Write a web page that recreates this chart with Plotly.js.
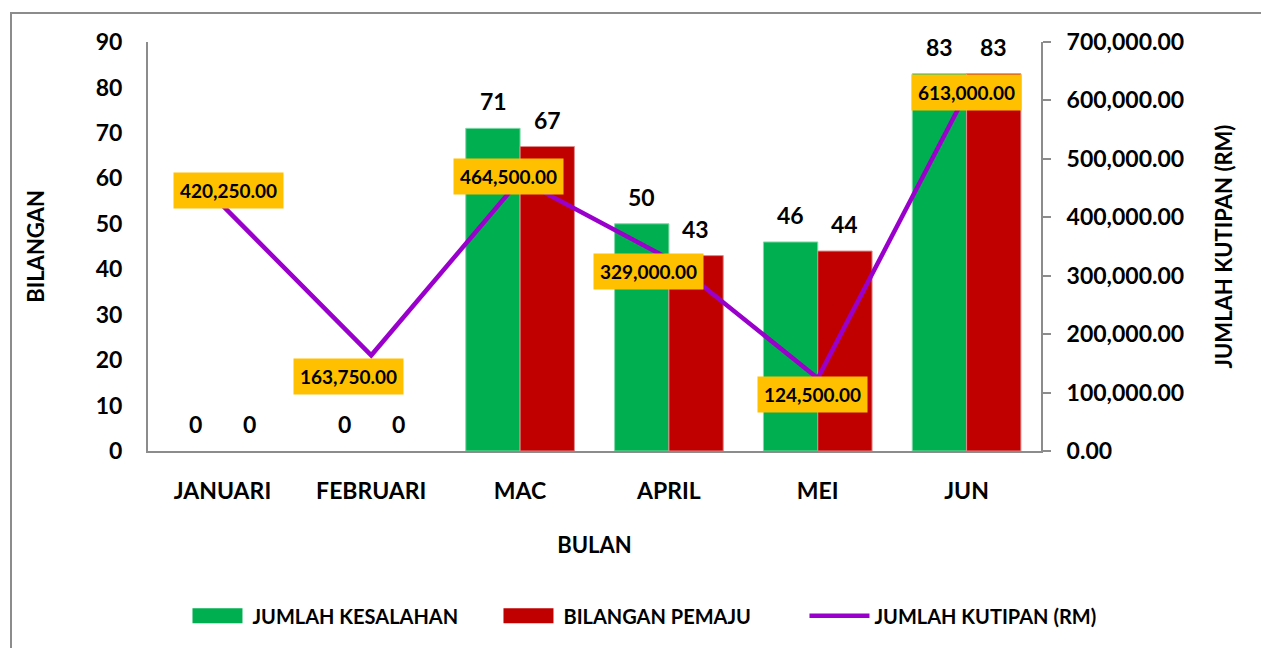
<!DOCTYPE html>
<html>
<head>
<meta charset="utf-8">
<script src="https://cdn.plot.ly/plotly-3.0.1.min.js"></script>
<style>
  html, body { margin: 0; padding: 0; background: #fff; overflow: hidden; }
  #wrap { position: relative; width: 1261px; height: 648px; }
  #chart { position: absolute; left: 0; top: 0; width: 1261px; height: 648px; }
  #frame { position: absolute; left: 10px; top: 12px; width: 1300px; height: 700px;
           border-left: 2px solid #8c8c8c; border-top: 2px solid #8c8c8c; pointer-events: none; }
</style>
</head>
<body>
<div id="wrap">
  <div id="chart"></div>
  <div id="frame"></div>
</div>
<script>
const months = ["JANUARI", "FEBRUARI", "MAC", "APRIL", "MEI", "JUN"];
const jumlahKesalahan = [0, 0, 71, 50, 46, 83];
const bilanganPemaju = [0, 0, 67, 43, 44, 83];
const jumlahKutipan = [420250, 163750, 464500, 329000, 124500, 613000];
const leftTicks = [0, 10, 20, 30, 40, 50, 60, 70, 80, 90];
const rightTicks = [0, 100000, 200000, 300000, 400000, 500000, 600000, 700000];

const FONT = "Lato, 'Open Sans', sans-serif";
const GREEN = "#00B050", RED = "#C00000", PURPLE = "#9A00CC", ORANGE = "#FFC000", AXIS = "#8c8c8c";
const edge = vals => vals.map(v => (v > 0 ? 1 : 0));

const traces = [
  { type: "bar", name: "JUMLAH KESALAHAN", x: months, y: jumlahKesalahan,
    marker: { color: GREEN, line: { color: "#80d8a8", width: edge(jumlahKesalahan) } }, yaxis: "y", hoverinfo: "skip" },
  { type: "bar", name: "BILANGAN PEMAJU", x: months, y: bilanganPemaju,
    marker: { color: RED, line: { color: "#e08a8a", width: edge(bilanganPemaju) } }, yaxis: "y", hoverinfo: "skip" },
  { type: "scatter", mode: "lines", name: "JUMLAH KUTIPAN (RM)", x: months, y: jumlahKutipan,
    line: { color: PURPLE, width: 4.5 }, yaxis: "y2", hoverinfo: "skip" }
];

const fmt = v => v.toLocaleString("en-US", { minimumFractionDigits: 2, maximumFractionDigits: 2 });
const bold = (size) => ({ family: FONT, size: size, color: "#000", weight: "bold" });

const annotations = [];
// bar value labels
months.forEach((m, i) => {
  annotations.push({ x: m, y: jumlahKesalahan[i], xref: "x", yref: "y", text: String(jumlahKesalahan[i]),
    showarrow: false, xshift: -27, yshift: 27, yanchor: "middle", font: bold(23) });
  annotations.push({ x: m, y: bilanganPemaju[i], xref: "x", yref: "y", text: String(bilanganPemaju[i]),
    showarrow: false, xshift: 27, yshift: 27, yanchor: "middle", font: bold(23) });
});
// line value labels (Excel-like placements)
const labShift = [[6, 15], [-23, -21], [-12, 3], [-20, -13], [-5, -16], [0, 0]];
months.forEach((m, i) => {
  annotations.push({ x: m, y: jumlahKutipan[i], xref: "x", yref: "y2", text: fmt(jumlahKutipan[i]),
    showarrow: false, xshift: labShift[i][0], yshift: labShift[i][1],
    bgcolor: ORANGE, borderpad: 6, font: bold(19) });
});

const layout = {
  width: 1261, height: 648,
  margin: { l: 148, r: 220, t: 42, b: 197 },
  paper_bgcolor: "#fff", plot_bgcolor: "#fff",
  barmode: "group", bargap: 0.27, bargroupgap: 0,
  font: { family: FONT, color: "#000" },
  showlegend: true,
  legend: { orientation: "h", x: 1.0834, xanchor: "right", y: -0.403, yanchor: "middle",
    font: bold(20), itemwidth: 60, entrywidth: 236, traceorder: "normal" },
  xaxis: {
    type: "category", showline: true, linecolor: AXIS, linewidth: 2, ticks: "", showgrid: false,
    zeroline: false, tickfont: bold(23), ticklabelstandoff: 18,
    title: { text: "BULAN", font: bold(22), standoff: 35 }
  },
  yaxis: {
    range: [0, 90], tickvals: leftTicks, showline: true, linecolor: AXIS, linewidth: 2, ticks: "",
    showgrid: false, zeroline: false, tickfont: bold(23), ticklabelstandoff: 19,
    title: { text: "BILANGAN", font: bold(22), standoff: 45 }
  },
  yaxis2: {
    overlaying: "y", side: "right", range: [0, 700000], tickvals: rightTicks, tickformat: ",.2f",
    showline: true, linecolor: AXIS, linewidth: 2, ticks: "outside", ticklen: 8, tickcolor: AXIS, tickwidth: 2,
    showgrid: false, zeroline: false, tickfont: bold(23), ticklabelstandoff: 11,
    title: { text: "JUMLAH KUTIPAN (RM)", font: bold(22), standoff: 33 }
  },
  annotations: annotations
};

Plotly.newPlot("chart", traces, layout, { displayModeBar: false, staticPlot: true }).then(gd => {
  // widen the bar legend swatches to Excel-like rectangles
  gd.querySelectorAll(".legend .traces .legendpoints path").forEach(p => {
    const d = p.getAttribute("d") || "";
    if (/^M6,6H-6V-6H6Z$/.test(d)) {
      p.setAttribute("d", "M25,7.5H-25V-7.5H25Z");
      p.style.strokeWidth = "0px";
    }
  });
});
</script>
</body>
</html>
